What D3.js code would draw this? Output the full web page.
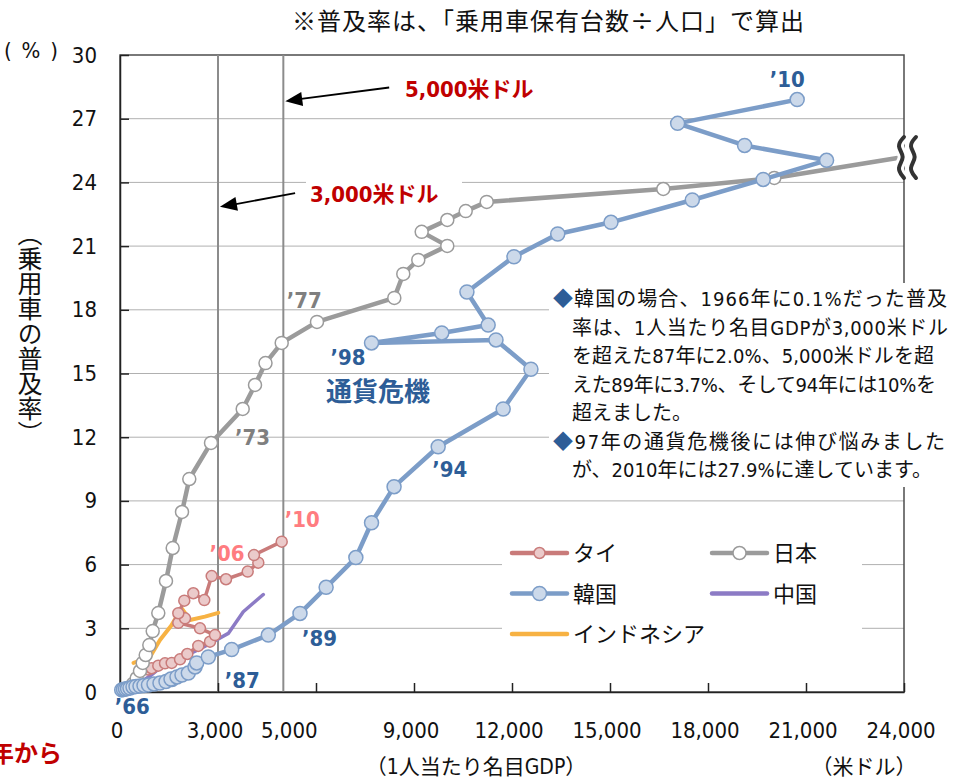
<!DOCTYPE html>
<html><head><meta charset="utf-8">
<script src="https://cdn.jsdelivr.net/npm/d3@7"></script>
<style>
body{margin:0;background:#fff;}
svg{display:block;}
</style></head><body>
<svg id="chart" width="958" height="780"></svg>
<script>
// 1人当たり名目GDP（米ドル）と乗用車普及率（%）の推移

// 日本（最後の点は軸の外へ伸びる省略部分）
const japanGdp  = [398, 511, 612, 695, 787, 897, 1001, 1172, 1408, 1613, 1898, 2121, 2786, 3756, 4133, 4454, 4950, 6030, 8397, 8672, 9131, 10019, 9235, 10019, 10583, 11226, 16631, 20029, 23800];
const japanRate = [0.38, 0.65, 0.99, 1.37, 1.74, 2.21, 2.87, 3.72, 5.23, 6.78, 8.48, 10.03, 11.73, 13.33, 14.46, 15.49, 16.44, 17.43, 18.56, 19.69, 20.35, 21.01, 21.67, 22.23, 22.65, 23.08, 23.69, 24.21, 25.15];

// 韓国 1966〜2010年
const koreaYears = d3.range(1966, 2011);
const koreaGdp  = [52, 107, 168, 230, 306, 398, 490, 612, 735, 872, 1041, 1224, 1408, 1592, 1561, 1745, 1898, 2091, 2296, 2348, 2704, 3419, 4540, 5510, 6310, 7220, 7700, 8390, 9740, 11730, 12580, 11510, 7700, 9850, 11270, 10620, 12060, 13400, 15030, 17520, 19690, 21630, 19120, 17070, 20730];
const koreaRate = [0.1, 0.12, 0.14, 0.16, 0.19, 0.24, 0.26, 0.28, 0.31, 0.33, 0.38, 0.42, 0.49, 0.59, 0.61, 0.71, 0.80, 0.89, 1.18, 1.37, 1.65, 2.0, 2.68, 3.7, 4.93, 6.33, 7.97, 9.67, 11.55, 13.33, 15.2, 16.58, 16.44, 16.91, 17.28, 18.84, 20.5, 21.57, 22.12, 23.17, 24.14, 25.04, 25.74, 26.78, 27.9];

// タイ 1988〜2010年
const thaiYears = d3.range(1988, 2011);
const thaiGdp  = [857, 970, 1172, 1378, 1583, 1837, 2061, 2397, 2755, 2908, 2449, 1785, 1990, 1785, 1968, 2244, 2581, 2807, 3245, 3909, 4234, 4102, 4950];
const thaiRate = [1.06, 1.12, 1.24, 1.35, 1.37, 1.54, 1.79, 2.17, 2.37, 2.68, 3.0, 3.26, 3.47, 3.71, 4.30, 4.65, 4.33, 5.46, 5.31, 5.67, 6.09, 6.45, 7.08];

// インドネシア
const indoGdp  = [413, 551, 918, 1224, 1583, 1889, 2143, 2600, 3009];
const indoRate = [1.37, 1.44, 1.65, 2.45, 3.16, 3.94, 3.39, 3.55, 3.73];

// 中国
const chinaGdp  = [245, 551, 918, 1224, 1479, 2042, 2449, 2856, 3315, 3774, 4387];
const chinaRate = [0.16, 0.38, 0.75, 1.13, 1.35, 1.74, 2.03, 2.37, 2.76, 3.78, 4.59];

// 目盛り
const yTicks = d3.range(0, 31, 3);
const xTicks = d3.range(0, 24001, 3000);
const xTickLabels = ["0", "3,000", "", "9,000", "12,000", "15,000", "18,000", "21,000", "24,000"];
const guideValues = [3000, 5000];

const annotationLines = [
  ["◆", "韓国の場合、1966年に0.1%だった普及"],
  ["", "率は、1人当たり名目GDPが3,000米ドル"],
  ["", "を超えた87年に2.0%、5,000米ドルを超"],
  ["", "えた89年に3.7%、そして94年には10%を"],
  ["", "超えました。"],
  ["◆", "97年の通貨危機後には伸び悩みました"],
  ["", "が、2010年には27.9%に達しています。"]
];

const CJK = "'Noto Sans CJK JP', sans-serif";
const NUM = "'DejaVu Sans Condensed', 'Noto Sans CJK JP', sans-serif";

const C = {
  japan: "#9b9b9b", korea: "#7c9dc8", koreaFill: "#ccd9ea", thai: "#c97b7a", thaiFill: "#ebcaca",
  indo: "#f7b243", china: "#8c7bc5", koreaText: "#2d5d97", japanText: "#7f7f7f", thaiText: "#ff7c80",
  red: "#c00000", grid: "#b0b0b0", guide: "#8c8c8c"
};

const svg = d3.select("#chart");
const x = d3.scaleLinear().domain([0, 24000]).range([120, 904]);
const y = d3.scaleLinear().domain([0, 30]).range([692, 55]);

const zip = (xs, ys) => xs.map((v, i) => [v, ys[i]]);
const line = d3.line().x(d => x(d[0])).y(d => y(d[1]));

// 横グリッド
svg.append("g").selectAll("line").data(yTicks.filter(v => v > 0 && v < 30)).join("line")
  .attr("x1", x(0)).attr("x2", x(24000)).attr("y1", d => y(d)).attr("y2", d => y(d))
  .attr("stroke", C.grid).attr("stroke-width", 1);

// 枠
svg.append("rect").attr("x", x(0)).attr("y", y(30)).attr("width", x(24000) - x(0)).attr("height", y(0) - y(30))
  .attr("fill", "none").attr("stroke", "#4d4d4d").attr("stroke-width", 1.5);

// 3,000・5,000米ドルの縦線
svg.append("g").selectAll("line").data(guideValues).join("line")
  .attr("x1", d => x(d)).attr("x2", d => x(d)).attr("y1", y(30)).attr("y2", y(0))
  .attr("stroke", C.guide).attr("stroke-width", 2);

// 軸
const yAxis = svg.append("g").attr("transform", `translate(${x(0)},0)`)
  .call(d3.axisLeft(y).tickValues(yTicks).tickSize(-9).tickSizeOuter(0).tickPadding(23));
yAxis.select(".domain").attr("stroke", "#222").attr("stroke-width", 1.5);
yAxis.selectAll(".tick line").attr("stroke", "#222").attr("stroke-width", 1.5);
yAxis.selectAll("text").attr("font-family", NUM).attr("font-size", 22).attr("fill", "#111");

const xAxis = svg.append("g").attr("transform", `translate(0,${y(0)})`)
  .call(d3.axisBottom(x).tickValues(xTicks).tickSize(-9).tickSizeOuter(0).tickFormat(() => ""));
xAxis.select(".domain").attr("stroke", "#222").attr("stroke-width", 1.5);
xAxis.selectAll(".tick line").attr("stroke", "#222").attr("stroke-width", 1.5);

svg.append("g").selectAll("text").data(xTicks).join("text")
  .attr("x", d => x(d) - 3).attr("y", 738).attr("text-anchor", "middle")
  .attr("font-family", NUM).attr("font-size", 22).attr("fill", "#111")
  .text((d, i) => xTickLabels[i]);
svg.append("text").attr("x", x(5000) + 6).attr("y", 738).attr("text-anchor", "middle")
  .attr("font-family", NUM).attr("font-size", 22).attr("fill", "#111").text("5,000");

// 軸タイトル
svg.append("text").attr("x", 4).attr("y", 58).attr("font-family", NUM).attr("font-size", 22)
  .attr("textLength", 54).attr("lengthAdjust", "spacing").attr("fill", "#111").text("(%)");
svg.append("text").attr("x", 30).attr("y", 221).attr("font-family", CJK).attr("font-size", 25).attr("fill", "#111")
  .style("writing-mode", "vertical-rl").text("（乗用車の普及率）");
svg.append("text").attr("x", 476).attr("y", 774).attr("text-anchor", "middle").attr("font-family", NUM).attr("font-size", 21).attr("fill", "#111").text("（1人当たり名目GDP）");
svg.append("text").attr("x", 864).attr("y", 774).attr("text-anchor", "middle").attr("font-family", CJK).attr("font-size", 21).attr("fill", "#111").text("（米ドル）");

// タイトル
svg.append("text").attr("x", 548).attr("y", 30).attr("text-anchor", "middle").attr("font-family", CJK).attr("font-size", 24)
  .attr("textLength", 512).attr("lengthAdjust", "spacing").attr("fill", "#111")
  .text("※普及率は、「乗用車保有台数÷人口」で算出");

// 白地の囲み（注記・凡例）
svg.append("rect").attr("x", 306).attr("y", 170).attr("width", 156).attr("height", 40).attr("fill", "#fff");
svg.append("rect").attr("x", 549).attr("y", 283).attr("width", 409).attr("height", 204).attr("fill", "#fff");
svg.append("rect").attr("x", 502).attr("y", 530).attr("width", 360).attr("height", 125).attr("fill", "#fff");

// 系列
function drawSeries(data, color, width, marker) {
  const g = svg.append("g");
  g.append("path").datum(data).attr("d", line).attr("fill", "none").attr("stroke", color)
    .attr("stroke-width", width).attr("stroke-linejoin", "round").attr("stroke-linecap", "round");
  if (marker) {
    g.selectAll("circle").data(marker.points).join("circle")
      .attr("cx", d => x(d[0])).attr("cy", d => y(d[1])).attr("r", marker.r)
      .attr("fill", marker.fill).attr("stroke", color).attr("stroke-width", marker.sw);
  }
  return g;
}

const china = zip(chinaGdp, chinaRate);
const indo = zip(indoGdp, indoRate);
const thai = zip(thaiGdp, thaiRate);
const japan = zip(japanGdp, japanRate);
const korea = zip(koreaGdp, koreaRate);

drawSeries(china, C.china, 3.5, null);
drawSeries(indo, C.indo, 4, null);
drawSeries(thai, C.thai, 3.5, { points: thai, r: 5.5, fill: C.thaiFill, sw: 1.5 });
drawSeries(japan, C.japan, 4.5, { points: japan.slice(0, -1), r: 6.5, fill: "#fff", sw: 1.5 });
drawSeries(korea, C.korea, 4.5, { points: korea, r: 7, fill: C.koreaFill, sw: 1.5 });

// 軸の省略記号
const brk = svg.append("g");
const wave = bx => [[bx + 3, 137], [bx - 5, 146], [bx + 5, 157], [bx - 5, 168], [bx + 3, 178]];
[0, 12].forEach(dx => {
  brk.append("path").datum(wave(901 + dx)).attr("d", d3.line().curve(d3.curveBasis))
    .attr("fill", "none").attr("stroke", "#fff").attr("stroke-width", 10);
});
[0, 12].forEach(dx => {
  brk.append("path").datum(wave(901 + dx)).attr("d", d3.line().curve(d3.curveBasis))
    .attr("fill", "none").attr("stroke", "#333").attr("stroke-width", 4).attr("stroke-linecap", "round");
});

// 年ラベル
function yearLabel(pt, dx, dy, txt, color, anchor) {
  svg.append("text").attr("x", x(pt[0]) + dx).attr("y", y(pt[1]) + dy)
    .attr("text-anchor", anchor || "start").attr("font-family", NUM).attr("font-weight", "bold")
    .attr("font-size", 22).attr("fill", color).text(txt);
}
const kIdx = yr => koreaYears.indexOf(yr);
const tIdx = yr => thaiYears.indexOf(yr);
yearLabel(korea[kIdx(2010)], -10, -13, "’10", C.koreaText, "middle");
yearLabel(korea[kIdx(1998)], -6, 22, "’98", C.koreaText, "end");
svg.append("text").attr("x", 326).attr("y", 401).attr("font-family", CJK).attr("font-weight", "bold")
  .attr("font-size", 26).attr("fill", C.koreaText).text("通貨危機");
yearLabel(korea[kIdx(1994)], -6, 30, "’94", C.koreaText);
yearLabel(korea[kIdx(1989)], 2, 33, "’89", C.koreaText);
yearLabel(korea[kIdx(1987)], -7, 38, "’87", C.koreaText);
yearLabel(korea[kIdx(1966)], -7, 24, "’66", C.koreaText);
yearLabel(japan[12], 24, 2, "’73", C.japanText);
yearLabel(japan[16], 5, -35, "’77", C.japanText);
yearLabel(thai[tIdx(2006)], 1, -18, "’06", C.thaiText, "middle");
yearLabel(thai[tIdx(2010)], 3, -15, "’10", C.thaiText);

// 3,000・5,000米ドルの注記
function guideNote(tail, tip, lx, ly, txt) {
  svg.append("line").attr("x1", x(tail[0])).attr("y1", y(tail[1])).attr("x2", x(tip[0]) + 12).attr("y2", y(tip[1]) - 2)
    .attr("stroke", "#000").attr("stroke-width", 1.8);
  const ang = Math.atan2(y(tip[1]) - y(tail[1]), x(tip[0]) - x(tail[0]));
  const tx = x(tip[0]), ty = y(tip[1]);
  const L = 17, W = 7;
  const bx = tx - L * Math.cos(ang), by = ty - L * Math.sin(ang);
  const px = -Math.sin(ang) * W, py = Math.cos(ang) * W;
  svg.append("path").attr("d", `M${tx},${ty}L${bx + px},${by + py}L${bx - px},${by - py}Z`).attr("fill", "#000");
  svg.append("text").attr("x", lx).attr("y", ly).attr("font-family", NUM).attr("font-weight", "bold")
    .attr("font-size", 22).attr("fill", C.red).text(txt);
}
guideNote([8240, 28.47], [5060, 27.82], 405, 97, "5,000米ドル");
guideNote([5360, 23.49], [3060, 22.85], 310, 202, "3,000米ドル");

// 注記文：各行の右端（null は自然な幅のまま）
const annRight = [947, 948, 934, 936, null, 945, null];
const ann = svg.append("g").attr("font-family", NUM).attr("font-size", 20).attr("fill", "#111");
annotationLines.forEach((ln, i) => {
  const lx = ln[0] ? 553 : 572;
  const t = ann.append("text").attr("x", lx).attr("y", 306 + i * 28.5);
  if (ln[0]) t.append("tspan").attr("fill", C.koreaText).attr("font-family", CJK).text(ln[0]);
  t.append("tspan").text(ln[1]);
  if (annRight[i]) t.attr("textLength", annRight[i] - lx).attr("lengthAdjust", "spacing");
});

// 凡例
const legendItems = [
  { name: "タイ", color: C.thai, fill: C.thaiFill, r: 5.5, col: 0, row: 0 },
  { name: "日本", color: C.japan, fill: "#fff", r: 6.5, col: 1, row: 0 },
  { name: "韓国", color: C.korea, fill: C.koreaFill, r: 7, col: 0, row: 1 },
  { name: "中国", color: C.china, fill: null, r: 0, col: 1, row: 1 },
  { name: "インドネシア", color: C.indo, fill: null, r: 0, col: 0, row: 2 }
];
const lg = svg.append("g");
legendItems.forEach(d => {
  const lx = 512 + d.col * 200, ly = 553 + d.row * 40.5;
  lg.append("line").attr("x1", lx).attr("x2", lx + 55).attr("y1", ly).attr("y2", ly)
    .attr("stroke", d.color).attr("stroke-width", 4.5).attr("stroke-linecap", "round");
  if (d.fill) lg.append("circle").attr("cx", lx + 27.5).attr("cy", ly).attr("r", d.r)
    .attr("fill", d.fill).attr("stroke", d.color).attr("stroke-width", 1.5);
  lg.append("text").attr("x", lx + 61).attr("y", ly + 8).attr("font-family", CJK).attr("font-size", 22)
    .attr("fill", "#111").text(d.name);
});

// 左下の見出しの一部
svg.append("text").attr("x", -10).attr("y", 762).attr("font-family", CJK).attr("font-weight", "bold")
  .attr("font-size", 24).attr("fill", C.red).text("年から");
</script>
</body></html>
